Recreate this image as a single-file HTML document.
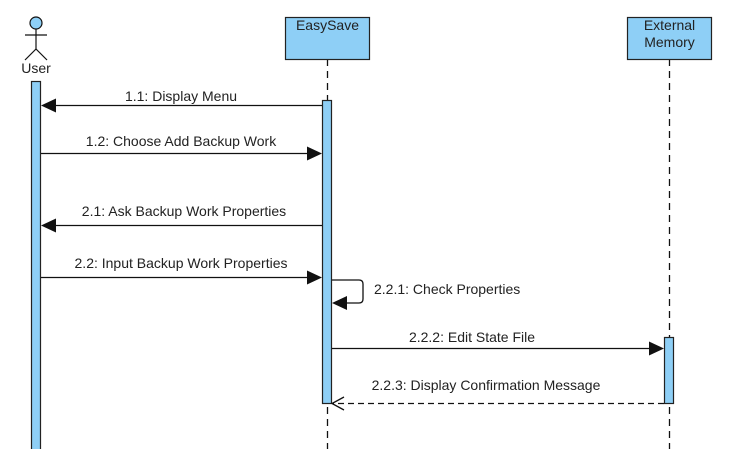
<!DOCTYPE html>
<html><head><meta charset="utf-8"><style>
html,body{margin:0;padding:0;background:#fff;width:739px;height:449px;overflow:hidden}
text{font-family:"Liberation Sans",Arial,sans-serif;font-size:14px;fill:#222}
</style></head><body>
<svg width="739" height="449" viewBox="0 0 739 449" xmlns="http://www.w3.org/2000/svg">
<g stroke="#111" stroke-width="1.3" fill="none">
<line x1="327.5" y1="59" x2="327.5" y2="449" stroke-dasharray="7,5"/>
<line x1="669.5" y1="59" x2="669.5" y2="449" stroke-dasharray="7,5"/>
</g>
<g stroke="#111" stroke-width="1.2">
<circle cx="36" cy="23" r="6" fill="#8ecff6"/>
<line x1="36" y1="29" x2="36" y2="49"/>
<line x1="25" y1="35" x2="47" y2="35"/>
<line x1="36" y1="49" x2="25" y2="60"/>
<line x1="36" y1="49" x2="47" y2="60"/>
</g>
<text x="36" y="73" text-anchor="middle">User</text>
<rect x="285.5" y="17.5" width="84" height="42" fill="#8ecff6" stroke="#222" stroke-width="1.2"/>
<text x="327.5" y="30" text-anchor="middle">EasySave</text>
<rect x="627.5" y="17.5" width="84" height="42" fill="#8ecff6" stroke="#222" stroke-width="1.2"/>
<text x="669.5" y="30" text-anchor="middle">External</text>
<text x="669.5" y="47" text-anchor="middle">Memory</text>
<rect x="31.5" y="81.5" width="9" height="380" fill="#8ecff6" stroke="#222" stroke-width="1.2"/>
<rect x="322.5" y="100.5" width="9" height="303" fill="#8ecff6" stroke="#222" stroke-width="1.2"/>
<rect x="664.5" y="337.5" width="9" height="66" fill="#8ecff6" stroke="#222" stroke-width="1.2"/>
<g stroke="#111" stroke-width="1.3" fill="none">
<line x1="322" y1="105.5" x2="52" y2="105.5"/>
<line x1="41" y1="153.5" x2="310" y2="153.5"/>
<line x1="322" y1="225.5" x2="52" y2="225.5"/>
<line x1="41" y1="277.5" x2="310" y2="277.5"/>
<path d="M332 280 H359 Q363 280 363 284 V299 Q363 303 359 303 H344"/>
<line x1="332" y1="348.5" x2="652" y2="348.5"/>
<line x1="664" y1="403.5" x2="333" y2="403.5" stroke-dasharray="6,4"/>
<path d="M344 397 L332 403.5 L344 410"/>
</g>
<g fill="#111">
<polygon points="41,105.5 56,98.5 56,112.5"/>
<polygon points="322,153.5 307,146.5 307,160.5"/>
<polygon points="41,225.5 56,218.5 56,232.5"/>
<polygon points="322,277.5 307,270.5 307,284.5"/>
<polygon points="332,303 347,296 347,310"/>
<polygon points="664,348.5 649,341.5 649,355.5"/>
</g>
<text x="181" y="101" text-anchor="middle">1.1: Display Menu</text>
<text x="181" y="146" text-anchor="middle">1.2: Choose Add Backup Work</text>
<text x="184" y="216" text-anchor="middle">2.1: Ask Backup Work Properties</text>
<text x="181" y="268" text-anchor="middle">2.2: Input Backup Work Properties</text>
<text x="374" y="294">2.2.1: Check Properties</text>
<text x="472" y="342" text-anchor="middle">2.2.2: Edit State File</text>
<text x="486" y="390" text-anchor="middle">2.2.3: Display Confirmation Message</text>
</svg>
</body></html>
